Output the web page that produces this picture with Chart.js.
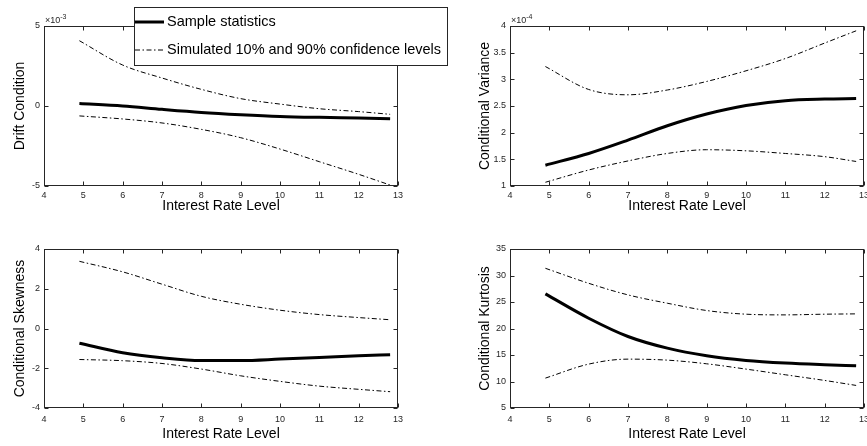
<!DOCTYPE html>
<html>
<head>
<meta charset="utf-8">
<script src="https://cdn.jsdelivr.net/npm/chart.js@4.4.0/dist/chart.umd.min.js"></script>
<style>
  html, body { margin: 0; padding: 0; background: #fff; }
  #wrap { position: relative; width: 867px; height: 446px; }
  canvas { position: absolute; left: 0; top: 0; }
</style>
</head>
<body>
<div id="wrap">
  <canvas id="drift" width="867" height="446"></canvas>
  <canvas id="variance" width="867" height="446"></canvas>
  <canvas id="skew" width="867" height="446"></canvas>
  <canvas id="kurt" width="867" height="446"></canvas>
</div>
<script>
// Interest rate levels where the curves were read
const rateLevels = [4.9, 6, 7, 8, 9, 10, 11, 12, 12.8];

// Drift condition (x10^-3)
const driftSample = [0.15, 0.0, -0.21, -0.40, -0.54, -0.65, -0.71, -0.75, -0.79];
const driftLow = [-0.62, -0.81, -1.06, -1.46, -1.98, -2.69, -3.48, -4.27, -4.94];
const driftHigh = [4.08, 2.56, 1.75, 1.04, 0.46, 0.12, -0.17, -0.35, -0.52];

// Conditional variance (x10^-4)
const varSample = [1.39, 1.61, 1.86, 2.13, 2.35, 2.51, 2.60, 2.63, 2.64];
const varLow = [1.07, 1.30, 1.47, 1.61, 1.68, 1.66, 1.61, 1.55, 1.46];
const varHigh = [3.24, 2.81, 2.71, 2.80, 2.96, 3.16, 3.39, 3.68, 3.91];

// Conditional skewness
const skewSample = [-0.74, -1.22, -1.47, -1.61, -1.61, -1.54, -1.46, -1.37, -1.32];
const skewLow = [-1.56, -1.62, -1.76, -2.04, -2.38, -2.66, -2.90, -3.06, -3.18];
const skewHigh = [3.38, 2.85, 2.23, 1.62, 1.22, 0.92, 0.70, 0.55, 0.44];

// Conditional kurtosis
const kurtSample = [26.53, 21.94, 18.49, 16.29, 14.85, 13.97, 13.47, 13.16, 12.97];
const kurtLow = [10.64, 13.28, 14.22, 14.03, 13.34, 12.34, 11.27, 10.20, 9.26];
const kurtHigh = [31.36, 28.53, 26.34, 24.77, 23.39, 22.70, 22.57, 22.70, 22.76];

const legendLabels = ['Sample statistics', 'Simulated 10% and 90% confidence levels'];
const xTitle = 'Interest Rate Level';

const AXIS_COLOR = '#262626';
const FONT = '"Liberation Sans", Arial, Helvetica, sans-serif';
const DASH_DOT = [5, 2.5, 1.5, 2.5];

/**
 * MATLAB style box: frame, inward ticks, exponent and optional legend
 */
const matlabBox = {
    id: 'matlabBox',
    afterDraw(chart, args, opts) {
        const { ctx, chartArea: a, scales: { x, y } } = chart;
        const L = Math.round(a.left) + 0.5, R = Math.round(a.right) - 0.5;
        const T = Math.round(a.top) + 0.5, B = Math.round(a.bottom) - 0.5;
        ctx.save();
        ctx.strokeStyle = AXIS_COLOR;
        ctx.lineWidth = 1;
        ctx.strokeRect(L, T, R - L, B - T);

        const tl = 4;
        ctx.beginPath();
        x.ticks.forEach(t => {
            const px = Math.round(x.getPixelForValue(t.value)) + 0.5;
            ctx.moveTo(px, B); ctx.lineTo(px, B - tl);
            ctx.moveTo(px, T); ctx.lineTo(px, T + tl);
        });
        y.ticks.forEach(t => {
            const py = Math.round(y.getPixelForValue(t.value)) + 0.5;
            ctx.moveTo(L, py); ctx.lineTo(L + tl, py);
            ctx.moveTo(R, py); ctx.lineTo(R - tl, py);
        });
        ctx.stroke();

        // exponent label above the y axis
        if (opts.exponent) {
            ctx.fillStyle = AXIS_COLOR;
            ctx.textBaseline = 'alphabetic';
            ctx.textAlign = 'left';
            ctx.font = '9px ' + FONT;
            ctx.fillText('\u00d710', a.left + 1, a.top - 3);
            const w = ctx.measureText('\u00d710').width;
            ctx.font = '7px ' + FONT;
            ctx.fillText(opts.exponent, a.left + 1 + w, a.top - 7);
        }

        // legend box
        if (opts.legend) {
            const lg = opts.legend;
            ctx.fillStyle = '#fff';
            ctx.fillRect(lg.left, lg.top, lg.width, lg.height);
            ctx.strokeStyle = AXIS_COLOR;
            ctx.strokeRect(lg.left + 0.5, lg.top + 0.5, lg.width, lg.height);
            ctx.font = '14.5px ' + FONT;
            ctx.textBaseline = 'middle';
            ctx.fillStyle = '#000';
            lg.rows.forEach((row, i) => {
                const ds = chart.data.datasets[i === 0 ? 0 : 1];
                ctx.save();
                ctx.strokeStyle = '#000';
                ctx.lineWidth = ds.borderWidth;
                ctx.setLineDash(ds.borderDash || []);
                ctx.beginPath();
                ctx.moveTo(lg.left + 1, row);
                ctx.lineTo(lg.left + 30, row);
                ctx.stroke();
                ctx.restore();
                ctx.fillText(legendLabels[i], lg.left + 33, row);
            });
        }
        ctx.restore();
    }
};

function series(values) {
    return rateLevels.map((x, i) => ({ x: x, y: values[i] }));
}

function makeChart(id, area, yTitle, yMin, yMax, yStep, sample, low, high, extra) {
    const yWidth = 44;
    const xHeight = extra.xHeight || 30;
    const ctx = document.getElementById(id).getContext('2d');
    return new Chart(ctx, {
        type: 'line',
        data: {
            datasets: [
                { data: series(sample), borderColor: '#000', borderWidth: 3 },
                { data: series(low), borderColor: '#000', borderWidth: 1, borderDash: DASH_DOT },
                { data: series(high), borderColor: '#000', borderWidth: 1, borderDash: DASH_DOT }
            ]
        },
        options: {
            responsive: false,
            devicePixelRatio: 1,
            animation: false,
            events: [],
            layout: {
                padding: {
                    left: area.left - yWidth,
                    right: 867 - area.right,
                    top: area.top,
                    bottom: 446 - area.bottom - xHeight
                }
            },
            elements: {
                point: { radius: 0 },
                line: { cubicInterpolationMode: 'monotone', fill: false }
            },
            plugins: {
                legend: { display: false },
                tooltip: { enabled: false },
                matlabBox: extra
            },
            scales: {
                x: {
                    type: 'linear',
                    min: 4,
                    max: 13,
                    grid: { display: false, drawTicks: false },
                    border: { display: false },
                    ticks: {
                        stepSize: 1,
                        autoSkip: false,
                        maxRotation: 0,
                        padding: extra.xTickPad || 4,
                        color: AXIS_COLOR,
                        font: { family: FONT, size: 9 }
                    },
                    title: {
                        display: true,
                        text: xTitle,
                        color: '#000',
                        font: { family: FONT, size: 14 },
                        padding: { top: 0, bottom: 1.6 }
                    },
                    afterFit(s) { s.height = xHeight; s.paddingLeft = 0; s.paddingRight = 0; }
                },
                y: {
                    type: 'linear',
                    min: yMin,
                    max: yMax,
                    grid: { display: false, drawTicks: false },
                    border: { display: false },
                    ticks: {
                        stepSize: yStep,
                        autoSkip: false,
                        padding: 4,
                        color: AXIS_COLOR,
                        font: { family: FONT, size: 9 },
                        callback: v => String(Math.round(v * 10) / 10)
                    },
                    title: {
                        display: true,
                        text: yTitle,
                        color: '#000',
                        font: { family: FONT, size: 14 },
                        padding: { top: extra.titlePad || 12, bottom: 0 }
                    },
                    afterFit(s) { s.width = yWidth; s.paddingTop = 0; s.paddingBottom = 0; }
                }
            }
        },
        plugins: [matlabBox]
    });
}

makeChart('drift', { left: 44, top: 26, right: 398, bottom: 186 }, 'Drift Condition',
    -5, 5, 5, driftSample, driftLow, driftHigh,
    { exponent: '-3', titlePad: 12, xHeight: 30, xTickPad: 4,
      legend: { left: 134, top: 7, width: 313, height: 58, rows: [22, 50] } });

makeChart('variance', { left: 510, top: 26, right: 864, bottom: 186 }, 'Conditional Variance',
    1, 4, 0.5, varSample, varLow, varHigh,
    { exponent: '-4', titlePad: 10.5, xHeight: 30, xTickPad: 4 });

makeChart('skew', { left: 44, top: 249, right: 398, bottom: 408 }, 'Conditional Skewness',
    -4, 4, 2, skewSample, skewLow, skewHigh,
    { titlePad: 12, xHeight: 36, xTickPad: 6 });

makeChart('kurt', { left: 510, top: 249, right: 864, bottom: 408 }, 'Conditional Kurtosis',
    5, 35, 5, kurtSample, kurtLow, kurtHigh,
    { titlePad: 10.5, xHeight: 36, xTickPad: 6 });
</script>
</body>
</html>
